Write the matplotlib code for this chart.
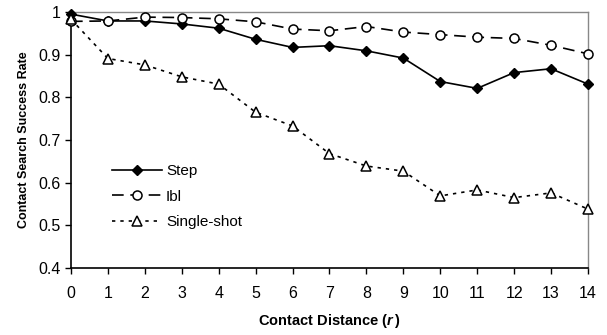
import matplotlib
matplotlib.use("Agg")
import matplotlib.pyplot as plt

x = list(range(15))
step = [0.995, 0.979, 0.979, 0.972, 0.962, 0.936, 0.917, 0.921, 0.909, 0.892, 0.837, 0.821, 0.858, 0.867, 0.831]
ibl = [0.978, 0.979, 0.988, 0.987, 0.984, 0.977, 0.960, 0.956, 0.966, 0.953, 0.947, 0.941, 0.938, 0.922, 0.902]
single = [0.983, 0.891, 0.876, 0.848, 0.831, 0.765, 0.733, 0.668, 0.639, 0.627, 0.569, 0.583, 0.565, 0.576, 0.538]
yticks = [0.4, 0.5, 0.6, 0.7, 0.8, 0.9, 1.0]
ytick_labels = ["0.4", "0.5", "0.6", "0.7", "0.8", "0.9", "1"]

plt.rcParams['font.family'] = ['Liberation Sans', 'DejaVu Sans']
plt.rcParams['mathtext.fontset'] = 'custom'
plt.rcParams['mathtext.rm'] = 'Liberation Sans'
plt.rcParams['mathtext.bfit'] = 'Liberation Sans:italic:bold'
plt.rcParams['mathtext.it'] = 'Liberation Sans:italic:bold'

fig = plt.figure(figsize=(6.07, 3.35), dpi=100)
ax = fig.add_axes([71/607, 1 - 268/335, (588-71)/607, (268-12)/335])

ax.plot(x, step, color='black', lw=1.2, ls='-', marker='D', ms=5.5,
        mfc='black', mec='black', label='Step', clip_on=False, zorder=3)
ax.plot(x, ibl, color='black', lw=1.2, ls=(0, (7, 4)), marker='o', ms=6.5,
        mfc='white', mec='black', mew=1.1, label='Ibl', clip_on=False, zorder=3)
ax.plot(x, single, color='black', lw=1.2, ls=(0, (2, 3)), marker='^', ms=7,
        mfc='white', mec='black', mew=1.1, label='Single-shot', clip_on=False, zorder=3)

ax.set_xlim(0, 14)
ax.set_ylim(0.4, 1.0)
ax.set_xticks(x)
ax.set_xticklabels([str(i) for i in x], fontsize=11.5)
ax.set_yticks(yticks)
ax.set_yticklabels(ytick_labels, fontsize=11.5)
ax.tick_params(direction='out', length=4, width=1)
ax.tick_params(axis='x', pad=9)
ax.tick_params(axis='y', pad=3.5)

for s in ['left', 'bottom']:
    ax.spines[s].set_color('black')
    ax.spines[s].set_linewidth(1.2)
for s in ['top', 'right']:
    ax.spines[s].set_color('#888888')
    ax.spines[s].set_linewidth(1.0)

ax.set_xlabel(r'Contact Distance ($\mathit{r}\,$)', fontsize=10.5, fontweight='bold', labelpad=8)
ax.set_ylabel('Contact Search Success Rate', fontsize=9, fontweight='bold', labelpad=6)

leg = ax.legend(loc='upper left', bbox_to_anchor=(0.079, 0.405), frameon=False,
                fontsize=11, handlelength=3.3, handletextpad=0.25,
                labelspacing=0.75, borderaxespad=0, borderpad=0)

fig.savefig('out.png', dpi=100)
